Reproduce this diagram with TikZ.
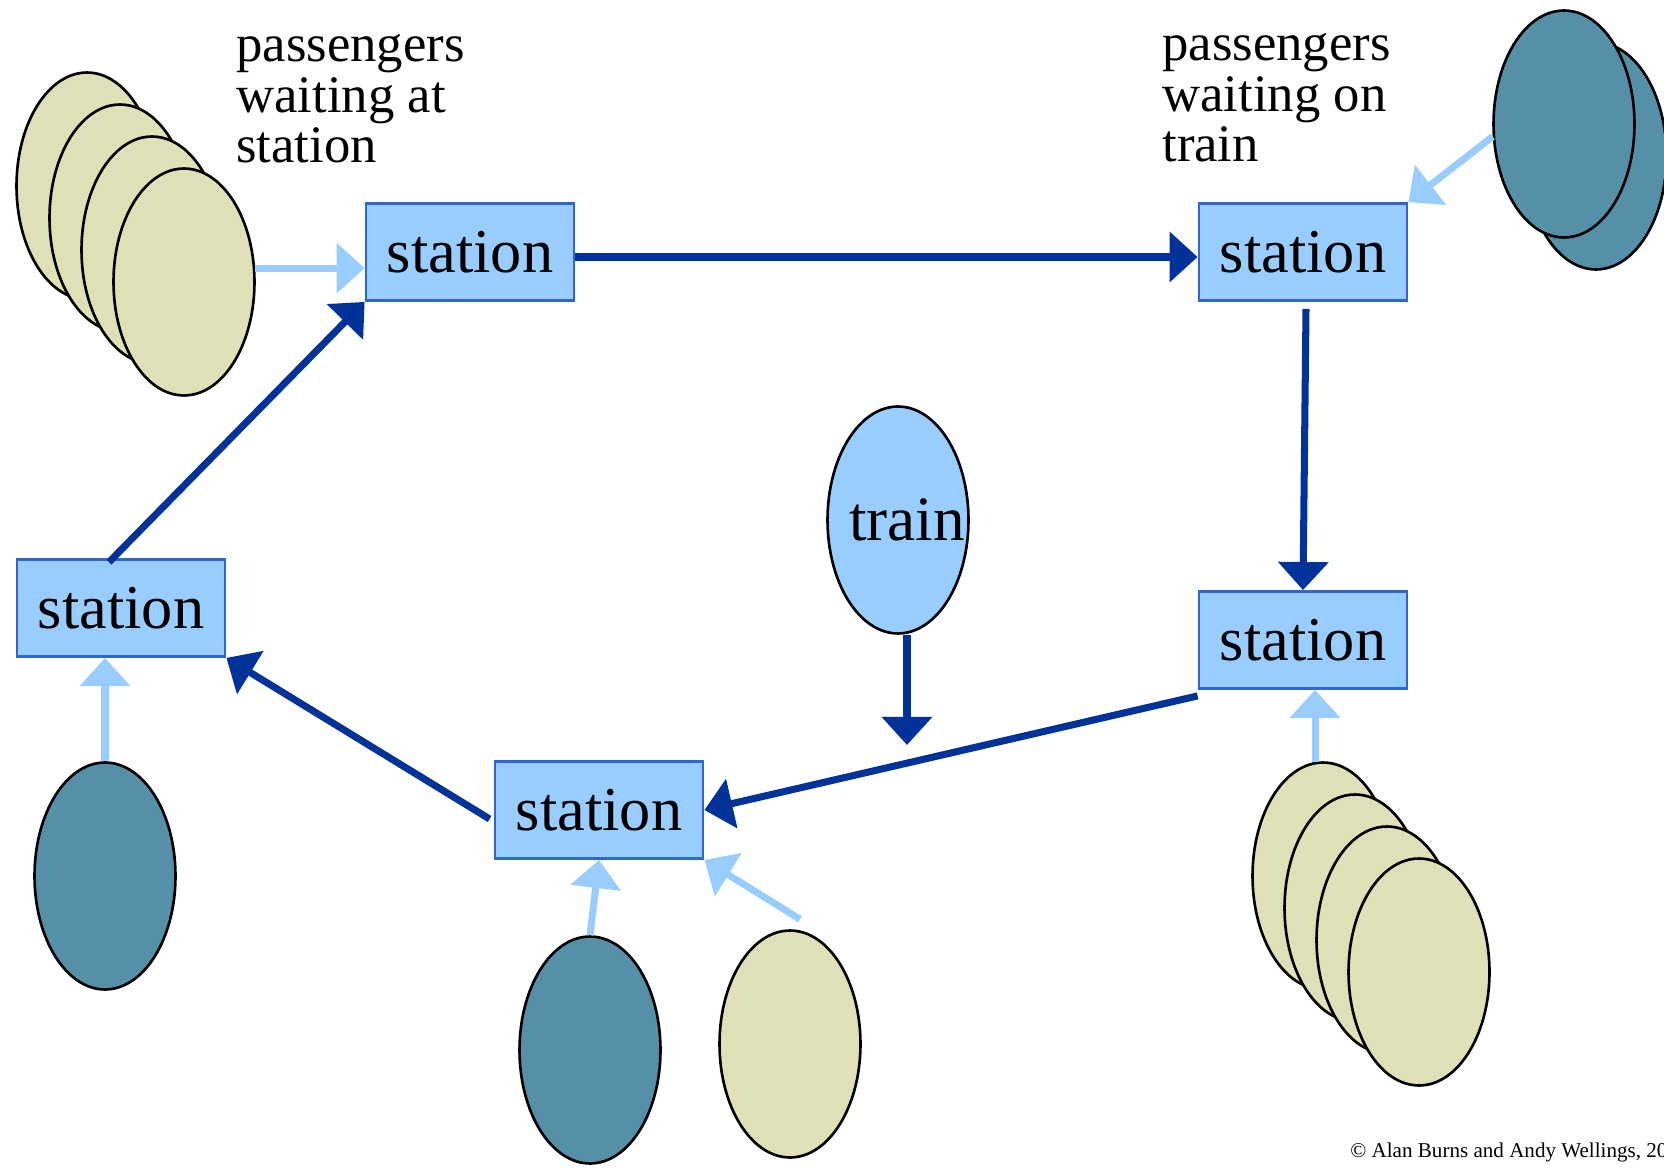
\documentclass[tikz,border=0pt]{standalone}
\usepackage{fontspec}
\setmainfont{Liberation Serif}
\usetikzlibrary{shapes.geometric,arrows.meta}

\definecolor{trackblue}{HTML}{003399}
\definecolor{boxblue}{HTML}{99CCFF}
\definecolor{boxedge}{HTML}{3366CC}
\definecolor{paletan}{RGB}{224,224,184}
\definecolor{passteal}{RGB}{85,144,168}

\newcommand{\waitfont}{\fontsize{30}{29}\selectfont\lineskiplimit-20pt\relax}

\tikzset{
  station/.style={rectangle,draw=boxedge,line width=1.6pt,fill=boxblue,minimum width=4.16cm,minimum height=1.94cm,inner sep=0pt,font=\fontsize{35.5}{40}\selectfont},
  atstation/.style={ellipse,draw=black,line width=1.5pt,fill=paletan,minimum width=2.82cm,minimum height=4.54cm,inner sep=0pt},
  ontrain/.style={atstation,fill=passteal},
  waitlabel/.style={anchor=base west,align=left,inner sep=0pt,font=\waitfont},
  track/.style={draw=trackblue,line width=4pt,-{Triangle[length=16pt,width=28pt]}},
  board/.style={draw=boxblue,line width=4pt,-{Triangle[length=16pt,width=28pt]}}
}

\begin{document}
\begin{tikzpicture}[x=0.02cm,y=-0.02cm]
 	 	\useasboundingbox (0,0) rectangle (1664,1169);

 	 	% passengers
 	 	\node[atstation] (p1) at (87,186) {};
 	 	\node[atstation] (p2) at (120,218) {};
 	 	\node[atstation] (p3) at (152,250) {};
 	 	\node[atstation] (p4) at (184,282) {};
 	 	\node[ontrain] (q2) at (1596,156) {};
 	 	\node[ontrain] (q1) at (1564,124) {};
 	 	\node[atstation] (r1) at (1323,876) {};
 	 	\node[atstation] (r2) at (1355,908) {};
 	 	\node[atstation] (r3) at (1387,940) {};
 	 	\node[atstation] (r4) at (1419,972) {};
 	 	\node[ontrain] (s1) at (105,876) {};
 	 	\node[ontrain] (u1) at (590,1050) {};
 	 	\node[atstation] (u2) at (790,1044) {};

 	 	% stations
 	 	\node[station] (A) at (470,252) {station};
 	 	\node[station] (B) at (1303,252) {station};
 	 	\node[station] (C) at (1303,640) {station};
 	 	\node[station] (D) at (599,810) {station};
 	 	\node[station] (E) at (121,608) {station};

 	 	% train
 	 	\node[atstation,fill=boxblue] (train) at (898,520) {};
 	 	\node[inner sep=0pt,font=\fontsize{36}{40}\selectfont] (traintxt) at (907,520) {train};
 	 	\coordinate (trainend) at (907,745);

 	 	\node[waitlabel] (lblstation) at (236,163) {passengers\\waiting at\\station};
 	 	\node[waitlabel] (lbltrain) at (1162,162) {passengers\\waiting on\\train};
 	 	\node[anchor=base west,inner sep=0pt,font=\fontsize{12}{14}\selectfont] (copy) at (1350,1157) {© Alan Burns and Andy Wellings, 20};

 	 	\draw[track] ([shift={(0,5)}]A.east) -- ([shift={(0,5)}]B.west);
 	 	\draw[track] ([shift={(3,7)}]B.south) -- (C.north);
 	 	\draw[track] ([shift={(0,6)}]C.south west) -- (D.east);
 	 	\draw[track] ([shift={(-4,9)}]D.west) -- (E.south east);
 	 	\draw[track] ([shift={(-12,4)}]E.north) -- (A.south west);
 	 	\draw[track] (trainend |- train.south) -- (trainend);

 	 	\draw[board] (p4.11) -- (p4.11 -| A.west);
 	 	\draw[board] (q1.190) -- (B.north east);
 	 	\draw[board] (r1.94) -- (r1.94 |- C.south);
 	 	\draw[board] (s1.north) -- (s1.north |- E.south);
 	 	\draw[board] (u1.north) -- (D.south);
 	 	\draw[board] ([shift={(10,-10)}]u2.north) -- (D.south east);
 	 \end{tikzpicture}
\end{document}
